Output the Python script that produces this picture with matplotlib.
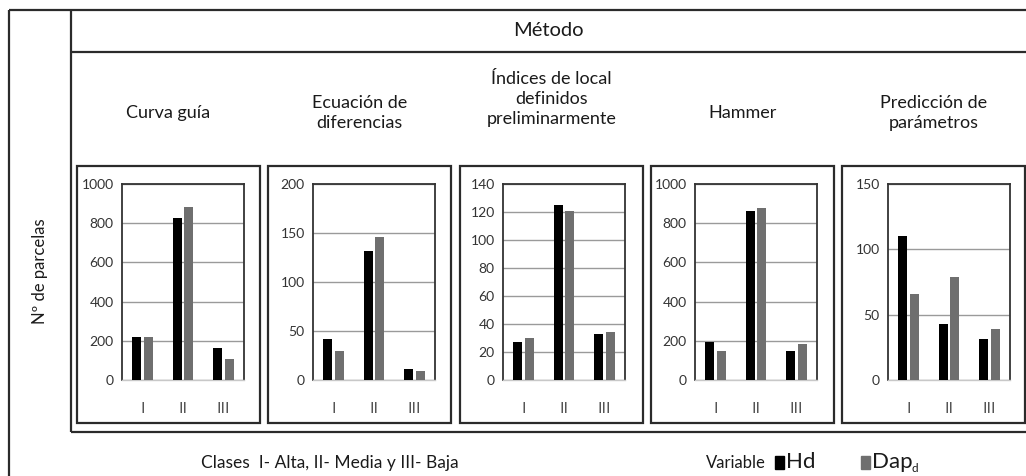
import matplotlib.pyplot as plt
from matplotlib.patches import Rectangle
import numpy as np

plt.rcParams['font.family'] = ['Lato', 'DejaVu Sans']

# datos por método
metodos = ["Curva guía", "Ecuación de\ndiferencias",
           "Índices de local\ndefinidos\npreliminarmente", "Hammer",
           "Predicción de\nparámetros"]
clases = ["I", "II", "III"]
hd_curva = [218, 828, 162]
dap_curva = [218, 882, 106]
hd_ecuacion = [42, 132, 11]
dap_ecuacion = [30, 146, 9]
hd_indices = [27, 125, 33]
dap_indices = [30, 121, 34]
hd_hammer = [196, 864, 146]
dap_hammer = [147, 878, 182]
hd_prediccion = [110, 43, 31]
dap_prediccion = [66, 79, 39]
ymax = [1000, 200, 140, 1000, 150]
ypaso = [200, 50, 20, 200, 50]

hd = [hd_curva, hd_ecuacion, hd_indices, hd_hammer, hd_prediccion]
dap = [dap_curva, dap_ecuacion, dap_indices, dap_hammer, dap_prediccion]

W, H = 1026, 476
fig = plt.figure(figsize=(W / 100, H / 100), dpi=100)

# capa de fondo en píxeles para marcos y textos
bg = fig.add_axes([0, 0, 1, 1])
bg.set_xlim(0, W)
bg.set_ylim(H, 0)
bg.axis("off")

frame = dict(color="#2b2b2b", lw=1.6, solid_capstyle="butt")
bg.plot([9, W], [10, 10], **frame)
bg.plot([9, 9], [10, H], **frame)
bg.plot([71, 71], [10, 432], **frame)
bg.plot([71, W], [52, 52], **frame)
bg.plot([71, W], [432, 432], **frame)

bg.text(548, 31, "Método", ha="center", va="center", fontsize=14.5, color="#1a1a1a")
bg.text(40, 271, "Nº de parcelas", ha="center", va="center", rotation=90,
        fontsize=12, color="#1a1a1a")

cajas = [77, 268, 460, 651, 842]
ancho_caja = 183
ejes_x = [122, 313, 503, 695, 888]
titulos_y = [113, 113, 99, 113, 113]

for i in range(5):
    x0 = cajas[i]
    bg.add_patch(Rectangle((x0, 166), ancho_caja, 257, fill=False,
                           ec="#2b2b2b", lw=1.6))
    bg.text(x0 + ancho_caja / 2, titulos_y[i], metodos[i], ha="center",
            va="center", fontsize=13, color="#1a1a1a", linespacing=1.3)

    ax = fig.add_axes([ejes_x[i] / W, 1 - 380 / H, 122 / W, 196 / H])
    x = np.arange(len(clases))
    ax.bar(x - 0.145, hd[i], width=0.22, color="black", zorder=3)
    ax.bar(x + 0.145, dap[i], width=0.22, color="#6f6f6f", zorder=3)
    ax.set_xlim(-0.5, 2.5)
    ax.set_ylim(0, ymax[i])
    ax.set_yticks(np.arange(0, ymax[i] + 1, ypaso[i]))
    ax.set_xticks(x)
    ax.set_xticklabels(clases, color="#555555", fontsize=11.5)
    ax.tick_params(axis="y", length=0, pad=6, labelsize=10, labelcolor="#333333")
    ax.tick_params(axis="x", length=0, pad=16)
    ax.yaxis.grid(True, color="#9a9a9a", lw=1)
    ax.set_axisbelow(True)
    for lado in ["top", "left", "right"]:
        ax.spines[lado].set_color("#333333")
        ax.spines[lado].set_linewidth(1.3)
    ax.spines["bottom"].set_color("#c8c8c8")
    ax.spines["bottom"].set_linewidth(1)

# leyenda inferior
bg.text(201, 463, "Clases  I- Alta, II- Media y III- Baja", ha="left",
        va="center", fontsize=12.5, color="#1a1a1a")
bg.text(706, 463, "Variable", ha="left", va="center", fontsize=12,
        color="#1a1a1a")
bg.add_patch(Rectangle((775, 456), 9, 13, color="black"))
bg.text(786, 462, "Hd", ha="left", va="center", fontsize=16, color="#1a1a1a")
bg.add_patch(Rectangle((861, 456), 9, 13, color="#6f6f6f"))
bg.text(872, 462, "Dap", ha="left", va="center", fontsize=16, color="#1a1a1a")
bg.text(912, 469, "d", ha="left", va="center", fontsize=8.5, color="#1a1a1a")

fig.savefig("out.png", dpi=100)
